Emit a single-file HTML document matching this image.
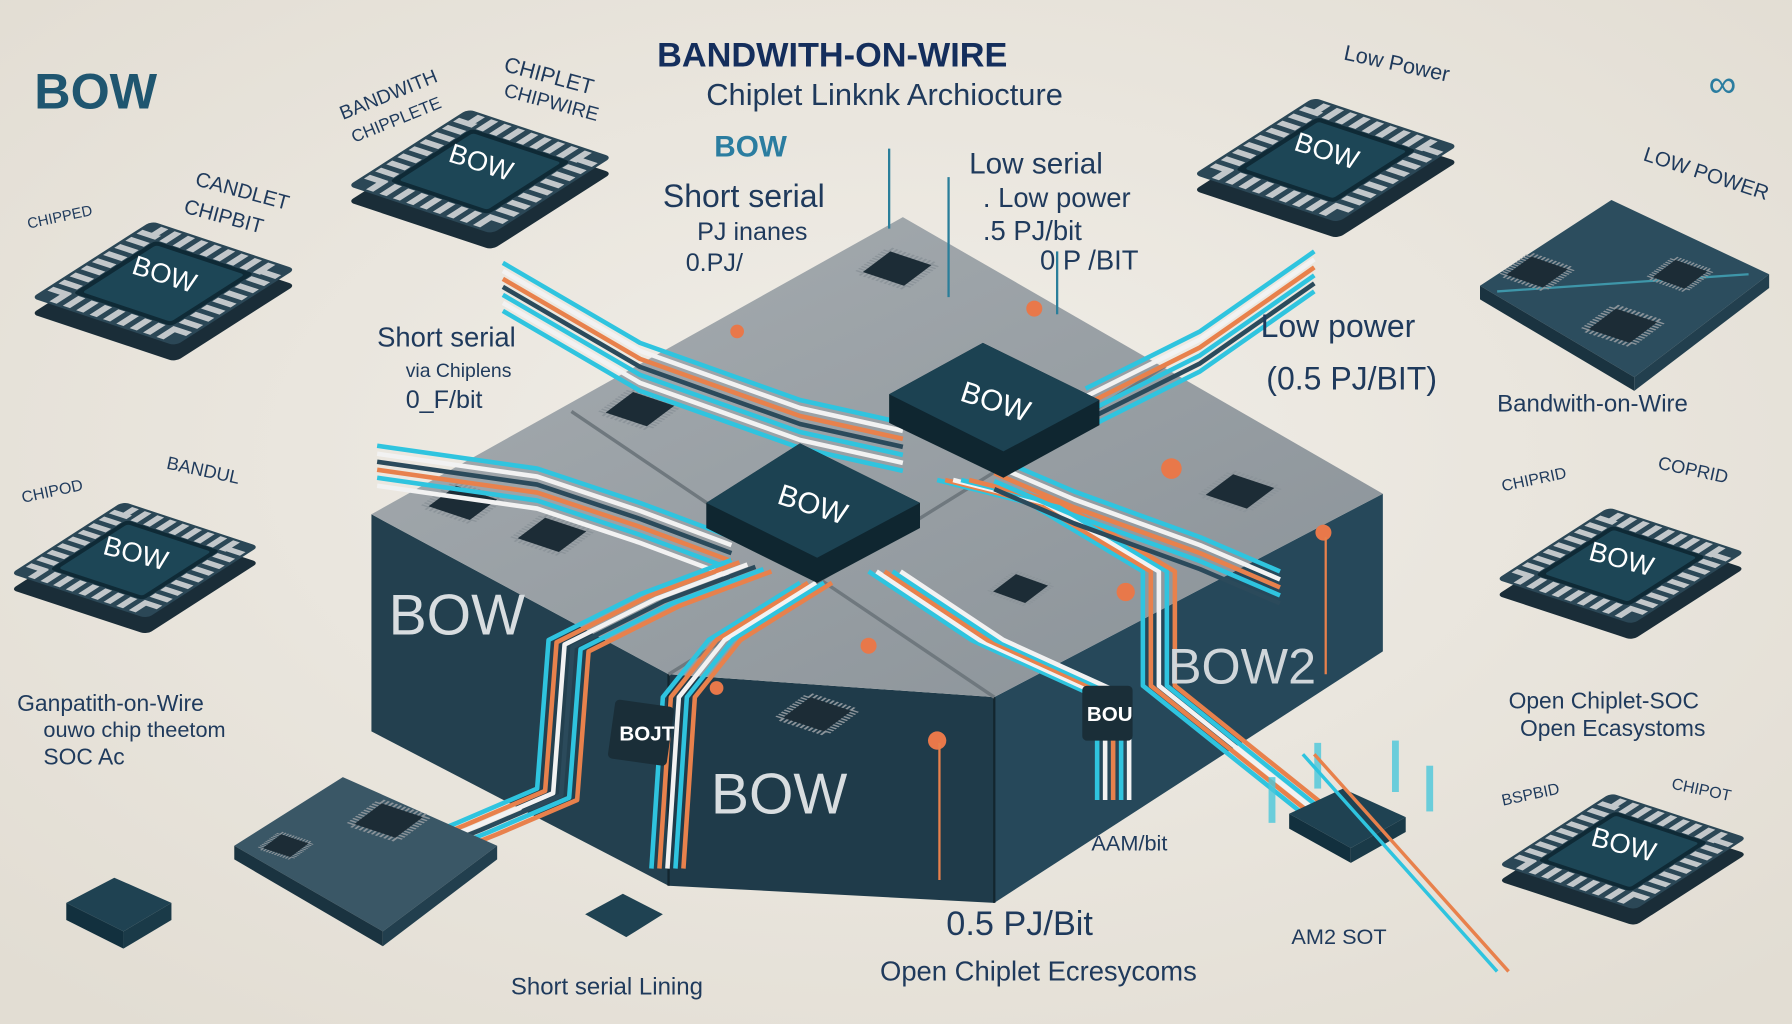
<!DOCTYPE html>
<html><head><meta charset="utf-8"><style>
html,body{margin:0;padding:0;background:#e9e5dd;}
svg{display:block}
text{font-family:"Liberation Sans",sans-serif}
</style></head><body>
<svg width="1792" height="1024" viewBox="0 0 1568 896" xmlns="http://www.w3.org/2000/svg">
<defs>
<radialGradient id="bg" cx="50%" cy="45%" r="70%">
<stop offset="0" stop-color="#f1eee8"/><stop offset="1" stop-color="#e2ddd3"/></radialGradient>
<linearGradient id="top" x1="0" y1="0" x2="1" y2="1"><stop offset="0" stop-color="#a7adb1"/><stop offset="1" stop-color="#8a9298"/></linearGradient>
<g id="chipBase"><rect x="-70" y="-70" width="140" height="140" rx="6" fill="#1a2d38"/></g>
<g id="chip">
<rect x="-70" y="-70" width="140" height="140" rx="6" fill="#2b4756"/>
<rect x="-58" y="-58" width="116" height="116" fill="none" stroke="#c2c7ca" stroke-width="18" stroke-dasharray="7 6"/>
<rect x="-48" y="-48" width="96" height="96" rx="4" fill="#0f2a36"/>
<rect x="-43" y="-43" width="86" height="86" rx="3" fill="#1d4656"/>
</g>
<g id="mini">
<rect x="-22" y="-22" width="44" height="44" fill="none" stroke="#8c949a" stroke-width="8" stroke-dasharray="2 2"/>
<rect x="-20" y="-20" width="40" height="40" fill="#1c2c36"/>
</g>
<path id="wA" d="M440,230 L560,300 L700,350 L790,370" fill="none"/>
<path id="wB" d="M330,390 L470,410 L560,440 L640,470" fill="none"/>
<path id="wC" d="M640,490 L560,520 L480,560 L470,690 L400,720 L300,760" fill="none"/>
<path id="wD" d="M700,510 L620,560 L580,610 L570,760" fill="none"/>
<path id="wE" d="M950,340 L1050,290 L1150,220" fill="none"/>
<path id="wF" d="M820,420 L900,440 L1000,500 L1000,600 L1150,720" fill="none"/>
<path id="wG" d="M760,500 L850,560 L960,610 L960,700" fill="none"/>
<path id="wH" d="M870,400 L940,430 L1050,470 L1120,500" fill="none"/>
</defs>
<rect width="1568" height="896" fill="url(#bg)"/>

<!-- main block -->
<polygon points="325,450 585,590 585,775 325,640" fill="#23404f"/>
<polygon points="585,590 870,610 870,790 585,775" fill="#1f3b4a"/>
<polygon points="870,610 1210,432 1210,570 870,790" fill="#26485a"/>
<polygon points="325,450 790,190 1210,432 870,610 585,590" fill="url(#top)"/>
<line x1="585" y1="590" x2="585" y2="775" stroke="#13262f" stroke-width="2"/>
<line x1="870" y1="610" x2="870" y2="790" stroke="#13262f" stroke-width="2"/>
<line x1="500" y1="360" x2="870" y2="610" stroke="#6f787e" stroke-width="3"/>
<line x1="585" y1="590" x2="1020" y2="320" stroke="#6f787e" stroke-width="3"/>
<use href="#mini" transform="translate(785,235) matrix(0.9,0.3,-0.6,0.45,0,0)"/>
<use href="#mini" transform="translate(560,358) matrix(0.9,0.3,-0.6,0.45,0,0)"/>
<use href="#mini" transform="translate(405,440) matrix(0.9,0.3,-0.6,0.45,0,0)"/>
<use href="#mini" transform="translate(483,468) matrix(0.9,0.3,-0.6,0.45,0,0)"/>
<use href="#mini" transform="translate(1085,430) matrix(0.9,0.3,-0.6,0.45,0,0)"/>
<use href="#mini" transform="translate(715,625) matrix(0.9,0.3,-0.6,0.45,0,0)"/>
<use href="#mini" transform="translate(893,515) matrix(0.7,0.25,-0.5,0.38,0,0)"/>
<circle cx="905" cy="270" r="7" fill="#e8784a"/><circle cx="645" cy="290" r="6" fill="#e8784a"/>
<circle cx="1025" cy="410" r="9" fill="#e8784a"/><circle cx="985" cy="518" r="8" fill="#e8784a"/>
<circle cx="627" cy="602" r="6" fill="#e8784a"/><circle cx="760" cy="565" r="7" fill="#e8784a"/>
<circle cx="820" cy="648" r="8" fill="#e8784a"/><circle cx="1158" cy="466" r="7" fill="#e8784a"/>

<!-- wires -->
<g stroke-width="4" stroke-linejoin="round">
<use href="#wA" stroke="#2fc4df"/><use href="#wA" stroke="#f2f2f2" transform="translate(0,7)"/><use href="#wA" stroke="#e8814c" transform="translate(0,14)"/><use href="#wA" stroke="#2b4a5b" transform="translate(0,21)"/><use href="#wA" stroke="#2fc4df" transform="translate(0,28)"/><use href="#wA" stroke="#f2f2f2" transform="translate(0,35)"/><use href="#wA" stroke="#2fc4df" transform="translate(0,42)"/>
<use href="#wB" stroke="#2fc4df"/><use href="#wB" stroke="#f2f2f2" transform="translate(0,7)"/><use href="#wB" stroke="#2b4a5b" transform="translate(0,14)"/><use href="#wB" stroke="#e8814c" transform="translate(0,21)"/><use href="#wB" stroke="#2fc4df" transform="translate(0,28)"/><use href="#wB" stroke="#f2f2f2" transform="translate(0,35)"/>
<use href="#wC" stroke="#2fc4df"/><use href="#wC" stroke="#e8814c" transform="translate(7,2)"/><use href="#wC" stroke="#f2f2f2" transform="translate(14,4)"/><use href="#wC" stroke="#2b4a5b" transform="translate(21,6)"/><use href="#wC" stroke="#2fc4df" transform="translate(28,8)"/><use href="#wC" stroke="#e8814c" transform="translate(35,10)"/>
<use href="#wD" stroke="#2fc4df"/><use href="#wD" stroke="#e8814c" transform="translate(7,0)"/><use href="#wD" stroke="#f2f2f2" transform="translate(14,0)"/><use href="#wD" stroke="#2fc4df" transform="translate(21,0)"/><use href="#wD" stroke="#e8814c" transform="translate(28,0)"/>
<use href="#wE" stroke="#2fc4df"/><use href="#wE" stroke="#f2f2f2" transform="translate(0,7)"/><use href="#wE" stroke="#e8814c" transform="translate(0,14)"/><use href="#wE" stroke="#2fc4df" transform="translate(0,21)"/><use href="#wE" stroke="#2b4a5b" transform="translate(0,28)"/><use href="#wE" stroke="#2fc4df" transform="translate(0,35)"/>
<use href="#wF" stroke="#2fc4df"/><use href="#wF" stroke="#e8814c" transform="translate(7,0)"/><use href="#wF" stroke="#f2f2f2" transform="translate(14,0)"/><use href="#wF" stroke="#2fc4df" transform="translate(21,0)"/><use href="#wF" stroke="#e8814c" transform="translate(28,0)"/>
<use href="#wG" stroke="#2fc4df"/><use href="#wG" stroke="#f2f2f2" transform="translate(7,0)"/><use href="#wG" stroke="#e8814c" transform="translate(14,0)"/><use href="#wG" stroke="#2fc4df" transform="translate(21,0)"/><use href="#wG" stroke="#f2f2f2" transform="translate(28,0)"/>
<use href="#wH" stroke="#2fc4df"/><use href="#wH" stroke="#f2f2f2" transform="translate(0,7)"/><use href="#wH" stroke="#e8814c" transform="translate(0,14)"/><use href="#wH" stroke="#2fc4df" transform="translate(0,21)"/><use href="#wH" stroke="#2b4a5b" transform="translate(0,28)"/>
</g>

<!-- central chips -->
<polygon points="778,345 860,300 962,350 962,372 878,418 778,370" fill="#0f2630"/>
<polygon points="778,345 860,300 962,350 878,395" fill="#1c4252"/>
<text x="870" y="360" font-size="26" fill="#fff" text-anchor="middle" transform="rotate(18 870 355)">BOW</text>
<polygon points="618,440 700,388 805,440 805,462 715,510 618,462" fill="#0f2630"/>
<polygon points="618,440 700,388 805,440 715,488" fill="#1c4252"/>
<text x="710" y="450" font-size="26" fill="#fff" text-anchor="middle" transform="rotate(18 710 445)">BOW</text>

<text x="340" y="555" font-size="50" fill="#d8dde0">BOW</text>
<text x="622" y="712" font-size="50" fill="#d8dde0">BOW</text>
<text x="1022" y="598" font-size="44" fill="#d0d6da">BOW2</text>
<rect x="535" y="615" width="52" height="52" rx="4" fill="#1a2e38" transform="rotate(8 560 640)"/>
<text x="542" y="648" font-size="18" fill="#fff" font-weight="bold">BOJT</text>
<rect x="947" y="600" width="44" height="48" rx="4" fill="#1a2e38"/>
<text x="951" y="631" font-size="18" fill="#fff" font-weight="bold">BOU</text>

<!-- peripheral chips -->
<g>
<use href="#chipBase" transform="translate(420,164) matrix(0.9,0.3,-0.75,0.48,0,0)"/>
<use href="#chip" transform="translate(420,150) matrix(0.9,0.3,-0.75,0.48,0,0)"/>
<use href="#chipBase" transform="translate(143,262) matrix(0.9,0.3,-0.75,0.48,0,0)"/>
<use href="#chip" transform="translate(143,248) matrix(0.9,0.3,-0.75,0.48,0,0)"/>
<use href="#chipBase" transform="translate(118,504) matrix(0.85,0.28,-0.7,0.45,0,0)"/>
<use href="#chip" transform="translate(118,490) matrix(0.85,0.28,-0.7,0.45,0,0)"/>
<use href="#chipBase" transform="translate(1160,154) matrix(0.9,0.3,-0.75,0.48,0,0)"/>
<use href="#chip" transform="translate(1160,140) matrix(0.9,0.3,-0.75,0.48,0,0)"/>
<use href="#chipBase" transform="translate(1418,509) matrix(0.85,0.28,-0.7,0.45,0,0)"/>
<use href="#chip" transform="translate(1418,495) matrix(0.85,0.28,-0.7,0.45,0,0)"/>
<use href="#chipBase" transform="translate(1420,759) matrix(0.85,0.28,-0.7,0.45,0,0)"/>
<use href="#chip" transform="translate(1420,745) matrix(0.85,0.28,-0.7,0.45,0,0)"/>
</g>
<g font-size="24" fill="#fff" text-anchor="middle">
<text x="420" y="150" transform="rotate(18 420 145)">BOW</text>
<text x="143" y="248" transform="rotate(18 143 243)">BOW</text>
<text x="118" y="492" transform="rotate(15 118 487)">BOW</text>
<text x="1160" y="140" transform="rotate(18 1160 135)">BOW</text>
<text x="1418" y="497" transform="rotate(15 1418 492)">BOW</text>
<text x="1420" y="747" transform="rotate(15 1420 742)">BOW</text>
</g>
<!-- boards -->
<polygon points="1295,250 1410,175 1548,240 1430,330" fill="#2c4d5e"/>
<polygon points="1295,250 1430,330 1430,342 1295,262" fill="#1a3340"/>
<polygon points="1430,330 1548,240 1548,252 1430,342" fill="#223f4e"/>
<line x1="1310" y1="255" x2="1530" y2="240" stroke="#4bc8db" stroke-width="2" opacity="0.6"/>
<use href="#mini" transform="translate(1420,285) matrix(0.9,0.3,-0.6,0.45,0,0)"/>
<use href="#mini" transform="translate(1345,238) matrix(0.8,0.28,-0.55,0.4,0,0)"/>
<use href="#mini" transform="translate(1470,240) matrix(0.7,0.25,-0.5,0.38,0,0)"/>
<polygon points="205,740 300,680 435,740 335,815" fill="#3a5766"/>
<polygon points="205,740 335,815 335,828 205,752" fill="#1a3340"/>
<polygon points="335,815 435,740 435,752 335,828" fill="#223f4e"/>
<use href="#mini" transform="translate(340,718) matrix(0.9,0.3,-0.6,0.45,0,0)"/>
<use href="#mini" transform="translate(250,740) matrix(0.6,0.2,-0.4,0.3,0,0)"/>
<polygon points="58,790 100,768 150,790 108,815" fill="#1f4252"/>
<polygon points="58,790 108,815 108,830 58,805" fill="#12303e"/><polygon points="108,815 150,790 150,805 108,830" fill="#1a3a48"/>
<polygon points="512,800 545,782 580,800 548,820" fill="#1f4252"/>
<polygon points="1128,712 1175,690 1230,715 1182,742" fill="#1f4252"/>
<polygon points="1128,712 1182,742 1182,755 1128,725" fill="#12303e"/><polygon points="1182,742 1230,715 1230,728 1182,755" fill="#1a3a48"/>
<g fill="#4bc8db" opacity="0.8"><rect x="1110" y="680" width="6" height="40"/><rect x="1150" y="650" width="6" height="40"/><rect x="1218" y="648" width="6" height="45"/><rect x="1248" y="670" width="6" height="40"/></g>
<line x1="1140" y1="660" x2="1310" y2="850" stroke="#2fc4df" stroke-width="3"/>
<line x1="1150" y1="660" x2="1320" y2="850" stroke="#e8814c" stroke-width="3"/>
<g stroke="#2a7e9a" stroke-width="2"><line x1="778" y1="130" x2="778" y2="200"/><line x1="830" y1="155" x2="830" y2="260"/><line x1="925" y1="220" x2="925" y2="275"/></g>
<line x1="1160" y1="470" x2="1160" y2="590" stroke="#e8814c" stroke-width="2"/>
<line x1="822" y1="650" x2="822" y2="770" stroke="#e8814c" stroke-width="2"/>

<!-- text -->
<g fill="#1f3a5c">
<text x="30" y="95" font-size="44" fill="#1f5670" font-weight="bold">BOW</text>
<text x="575" y="58" font-size="30" font-weight="bold" fill="#142e5c">BANDWITH-ON-WIRE</text>
<text x="618" y="92" font-size="27">Chiplet  Linknk Archiocture</text>
<text x="625" y="137" font-size="26" font-weight="bold" fill="#2b7da0">BOW</text>
<text x="580" y="181" font-size="28">Short serial</text>
<text x="610" y="210" font-size="22">PJ inanes</text>
<text x="600" y="237" font-size="22">0.PJ/</text>
<text x="848" y="152" font-size="26">Low serial</text>
<text x="860" y="181" font-size="24">. Low power</text>
<text x="860" y="210" font-size="24">.5 PJ/bit</text>
<text x="910" y="236" font-size="24">0 P /BIT</text>
<text x="330" y="303" font-size="24">Short serial</text>
<text x="355" y="330" font-size="17">via Chiplens</text>
<text x="355" y="357" font-size="22">0_F/bit</text>
<text x="1103" y="295" font-size="28">Low power</text>
<text x="1108" y="341" font-size="28">(0.5 PJ/BIT)</text>
<text x="1310" y="360" font-size="21">Bandwith-on-Wire</text>
<text x="15" y="622" font-size="20">Ganpatith-on-Wire</text>
<text x="38" y="645" font-size="19">ouwo chip theetom</text>
<text x="38" y="669" font-size="20">SOC Ac</text>
<text x="1320" y="620" font-size="20">Open Chiplet-SOC</text>
<text x="1330" y="644" font-size="20">Open  Ecasystoms</text>
<text x="828" y="818" font-size="30">0.5 PJ/Bit</text>
<text x="770" y="858" font-size="24">Open Chiplet Ecresycoms</text>
<text x="447" y="870" font-size="21">Short serial Lining</text>
<text x="955" y="744" font-size="19">AAM/bit</text>
<text x="1130" y="826" font-size="19">AM2 SOT</text>
<text x="300" y="105" font-size="17" transform="rotate(-22 300 105)">BANDWITH</text>
<text x="310" y="125" font-size="15" transform="rotate(-22 310 125)">CHIPPLETE</text>
<text x="440" y="62" font-size="19" transform="rotate(15 440 62)">CHIPLET</text>
<text x="440" y="84" font-size="17" transform="rotate(15 440 84)">CHIPWIRE</text>
<text x="170" y="162" font-size="18" transform="rotate(15 170 162)">CANDLET</text>
<text x="160" y="186" font-size="18" transform="rotate(15 160 186)">CHIPBIT</text>
<text x="25" y="200" font-size="13" transform="rotate(-12 25 200)">CHIPPED</text>
<text x="1175" y="52" font-size="19" transform="rotate(12 1175 52)">Low Power</text>
<text x="1437" y="140" font-size="18" transform="rotate(18 1437 140)">LOW POWER</text>
<text x="1315" y="430" font-size="14" transform="rotate(-12 1315 430)">CHIPRID</text>
<text x="1450" y="410" font-size="16" transform="rotate(12 1450 410)">COPRID</text>
<text x="20" y="440" font-size="14" transform="rotate(-12 20 440)">CHIPOD</text>
<text x="145" y="410" font-size="16" transform="rotate(12 145 410)">BANDUL</text>
<text x="1315" y="705" font-size="14" transform="rotate(-12 1315 705)">BSPBID</text>
<text x="1462" y="690" font-size="14" transform="rotate(12 1462 690)">CHIPOT</text>
</g>
<text x="1495" y="85" font-size="34" fill="#2b7da0">∞</text>
</svg>
</body></html>
